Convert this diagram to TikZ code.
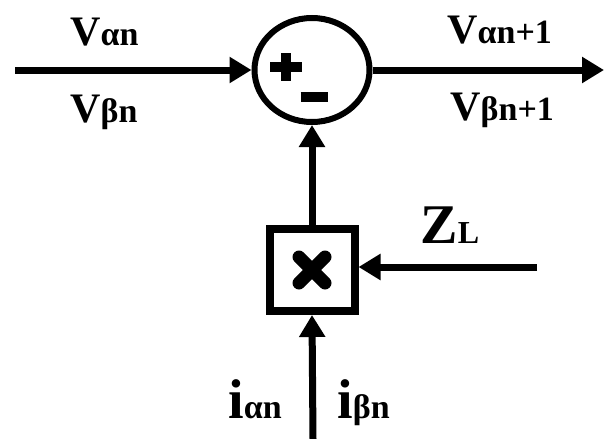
\documentclass[tikz,border=0pt]{standalone}
\usepackage{fontspec}
\setmainfont{Liberation Serif}
\usetikzlibrary{positioning, arrows.meta, shapes.geometric}
\tikzset{
    sumnode/.style={ellipse, draw, line width=3pt, minimum width=57.5pt, minimum height=52pt, inner sep=0pt},
    multnode/.style={rectangle, draw, line width=4pt, minimum width=42.5pt, minimum height=41pt, inner sep=0pt},
    arrow/.style={-{Triangle[length=11pt,width=12.5pt]}, line width=3.5pt},
    sign/.style={line width=5pt},
    lbl/.style={font=\bfseries, inner sep=0pt, anchor=base west},
}
\newcommand{\bigsub}[4]{{\fontsize{#1}{#1}\selectfont #2}{\fontsize{#3}{#3}\selectfont #4}}

\begin{document}
\begin{tikzpicture}[x=0.5pt, y=-0.5pt]
    \useasboundingbox (0,0) rectangle (605,439);

    % Blocchi
    \node[sumnode] (sum) at (312,70) {};
    \node[multnode] (mult) at (312,270) {};

    % Estremi liberi
    \coordinate (vin) at (15,70);
    \coordinate (vout) at (604,70);
    \coordinate (zl) at (537,267);
    \coordinate (iin) at (313,439);

    % Segni
    \draw[sign] (sum.center) ++(-42,-3) -- ++(32,0);
    \draw[sign] (sum.center) ++(-26,-17) -- ++(0,28);
    \draw[sign] (sum.center) ++(-11.5,27) -- ++(27,0);
    \draw[line width=6.5pt, line cap=round] (mult.center) ++(-13,-13) -- ++(26,26);
    \draw[line width=6.5pt, line cap=round] (mult.center) ++(-13,13) -- ++(26,-26);

    % Frecce
    \draw[arrow] (vin) -- (sum.west);
    \draw[arrow] (sum.east) -- (vout);
    \draw[arrow] (mult.north) -- (sum.south);
    \draw[arrow] (zl) -- (zl -| mult.east);
    \draw[arrow] (iin) -- (mult.south);

    % Etichette
    \node[lbl] (va) at (70,45) {\bigsub{21}{V}{17}{αn}};
    \node[lbl] (vb) at (70,122) {\bigsub{21}{V}{17}{βn}};
    \node[lbl] (va1) at (447,43) {\bigsub{21}{V}{17}{αn+1}};
    \node[lbl] (vb1) at (450,120) {\bigsub{21}{V}{17}{βn+1}};
    \node[lbl] (zlab) at (420,243) {\bigsub{28}{Z}{16}{L}};
    \node[lbl] (ia) at (228,418) {\bigsub{28}{i}{17}{αn}};
    \node[lbl] (ib) at (337,418) {\bigsub{28}{i}{17}{βn}};
\end{tikzpicture}
\end{document}
